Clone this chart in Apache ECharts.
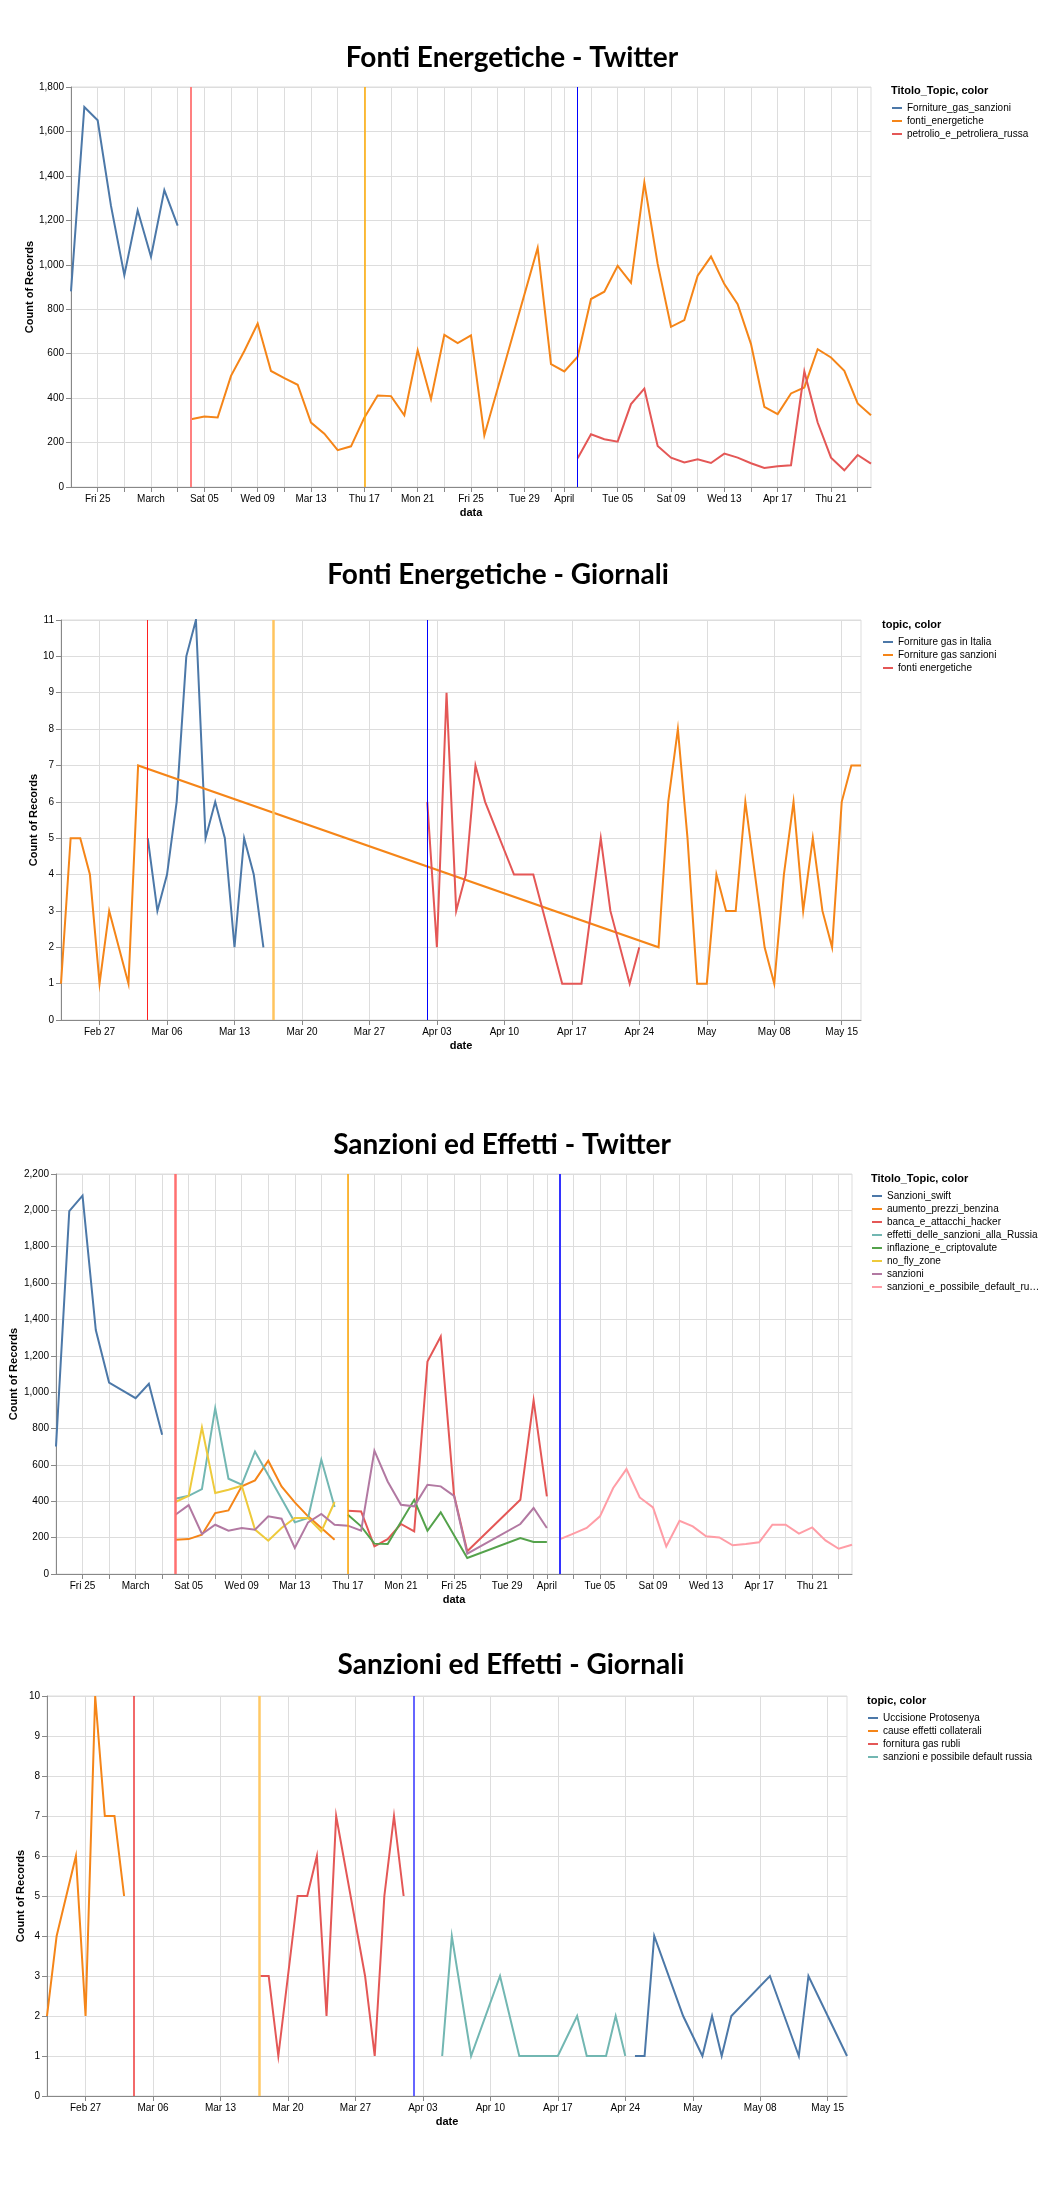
<!DOCTYPE html>
<html>
<head>
<meta charset="utf-8">
<title>Fonti Energetiche / Sanzioni ed Effetti</title>
<script src="https://cdn.jsdelivr.net/npm/echarts@6/dist/echarts.min.js"></script>
<style>
  html, body { margin: 0; padding: 0; background: #fff; }
  #main { width: 1048px; height: 2192px; }
</style>
</head>
<body>
<div id="main"></div>
<script>
// ---- tick positions / labels ----
const twTicks = ['02-25','02-27','03-01','03-03','03-05','03-07','03-09','03-11','03-13','03-15','03-17','03-19',
  '03-21','03-23','03-25','03-27','03-29','03-31','04-01','04-03','04-05','04-07','04-09','04-11','04-13','04-15',
  '04-17','04-19','04-21','04-23'];
const twLabels = {'02-25':'Fri 25','03-01':'March','03-05':'Sat 05','03-09':'Wed 09','03-13':'Mar 13','03-17':'Thu 17',
  '03-21':'Mon 21','03-25':'Fri 25','03-29':'Tue 29','04-01':'April','04-05':'Tue 05','04-09':'Sat 09',
  '04-13':'Wed 13','04-17':'Apr 17','04-21':'Thu 21'};
const giTicks = ['02-27','03-06','03-13','03-20','03-27','04-03','04-10','04-17','04-24','05-01','05-08','05-15'];
const giLabels = {'02-27':'Feb 27','03-06':'Mar 06','03-13':'Mar 13','03-20':'Mar 20','03-27':'Mar 27','04-03':'Apr 03',
  '04-10':'Apr 10','04-17':'Apr 17','04-24':'Apr 24','05-01':'May','05-08':'May 08','05-15':'May 15'};

// ---- Fonti Energetiche - Twitter ----
const fornitureGasSanzioniTw = [['02-23',880],['02-24',1710],['02-25',1650],['02-26',1265],['02-27',953],['02-28',1245],
  ['03-01',1036],['03-02',1336],['03-03',1176]];
const fontiEnergeticheTw = [['03-04',305],['03-05',317],['03-06',313],['03-07',500],['03-08',612],['03-09',736],['03-10',522],
  ['03-11',490],['03-12',460],['03-13',290],['03-14',240],['03-15',166],['03-16',183],['03-17',312],['03-18',412],
  ['03-19',409],['03-20',323],['03-21',615],['03-22',396],['03-23',685],['03-24',648],['03-25',682],['03-26',232],
  ['03-30',1076],['03-31',553],['04-01',520],['04-02',586],['04-03',846],['04-04',879],['04-05',995],['04-06',919],
  ['04-07',1370],['04-08',1004],['04-09',721],['04-10',751],['04-11',951],['04-12',1037],['04-13',913],['04-14',823],
  ['04-15',643],['04-16',361],['04-17',328],['04-18',421],['04-19',448],['04-20',620],['04-21',583],['04-22',523],
  ['04-23',376],['04-24',323]];
const petrolioTw = [['04-02',129],['04-03',237],['04-04',215],['04-05',204],['04-06',373],['04-07',443],['04-08',185],
  ['04-09',132],['04-10',110],['04-11',125],['04-12',108],['04-13',150],['04-14',132],['04-15',107],['04-16',86],
  ['04-17',93],['04-18',98],['04-19',520],['04-20',290],['04-21',132],['04-22',75],['04-23',144],['04-24',105]];

// ---- Fonti Energetiche - Giornali ----
const fornitureItaliaGi = [['03-04',5],['03-05',3],['03-06',4],['03-07',6],['03-08',10],['03-09',11],['03-10',5],
  ['03-11',6],['03-12',5],['03-13',2],['03-14',5],['03-15',4],['03-16',2]];
const fornitureSanzioniGi = [['02-23',1],['02-24',5],['02-25',5],['02-26',4],['02-27',1],['02-28',3],['03-02',1],['03-03',7],
  ['04-26',2],['04-27',6],['04-28',8],['04-29',5],['04-30',1],['05-01',1],['05-02',4],['05-03',3],['05-04',3],['05-05',6],
  ['05-06',4],['05-07',2],['05-08',1],['05-09',4],['05-10',6],['05-11',3],['05-12',5],['05-13',3],['05-14',2],['05-15',6],
  ['05-16',7],['05-17',7]];
const fontiEnergeticheGi = [['04-02',6],['04-03',2],['04-04',9],['04-05',3],['04-06',4],['04-07',7],['04-08',6],['04-11',4],
  ['04-12',4],['04-13',4],['04-16',1],['04-17',1],['04-18',1],['04-20',5],['04-21',3],['04-23',1],['04-24',2]];

// ---- Sanzioni ed Effetti - Twitter ----
const sanzioniSwiftTw = [['02-23',701],['02-24',1996],['02-25',2081],['02-26',1342],['02-27',1053],['02-28',1010],
  ['03-01',967],['03-02',1046],['03-03',766]];
const aumentoPrezziTw = [['03-04',189],['03-05',192],['03-06',216],['03-07',335],['03-08',350],['03-09',482],['03-10',515],
  ['03-11',623],['03-12',482],['03-13',394],['03-14',317],['03-15',253],['03-16',189]];
const bancaHackerTw = [['03-17',348],['03-18',344],['03-19',152],['03-20',192],['03-21',275],['03-22',234],['03-23',1168],
  ['03-24',1306],['03-25',436],['03-26',125],['03-30',408],['03-31',955],['04-01',427]];
const effettiSanzioniTw = [['03-04',414],['03-05',430],['03-06',467],['03-07',912],['03-08',524],['03-09',491],['03-10',674],
  ['03-13',284],['03-14',308],['03-15',628],['03-16',368]];
const inflazioneTw = [['03-17',326],['03-18',262],['03-19',167],['03-20',165],['03-22',408],['03-23',238],['03-24',339],
  ['03-26',88],['03-30',198],['03-31',176],['04-01',176]];
const noFlyZoneTw = [['03-04',396],['03-05',430],['03-06',806],['03-07',445],['03-08',463],['03-09',485],['03-10',244],
  ['03-11',183],['03-12',253],['03-13',308],['03-14',308],['03-15',234],['03-16',396]];
const sanzioniTw = [['03-04',326],['03-05',379],['03-06',220],['03-07',271],['03-08',238],['03-09',253],['03-10',244],
  ['03-11',317],['03-12',304],['03-13',143],['03-14',284],['03-15',330],['03-16',271],['03-17',266],['03-18',238],
  ['03-19',678],['03-20',509],['03-21',381],['03-22',372],['03-23',491],['03-24',482],['03-25',430],['03-26',112],
  ['03-30',275],['03-31',363],['04-01',253]];
const defaultRussiaTw = [['04-02',192],['04-03',222],['04-04',253],['04-05',317],['04-06',473],['04-07',577],['04-08',421],
  ['04-09',366],['04-10',152],['04-11',293],['04-12',262],['04-13',207],['04-14',201],['04-15',158],['04-16',165],
  ['04-17',174],['04-18',271],['04-19',271],['04-20',222],['04-21',256],['04-22',185],['04-23',139],['04-24',161]];

// ---- Sanzioni ed Effetti - Giornali ----
const protosenyaGi = [['04-25',1],['04-26',1],['04-27',4],['04-30',2],['05-02',1],['05-03',2],['05-04',1],['05-05',2],
  ['05-09',3],['05-12',1],['05-13',3],['05-17',1]];
const causeEffettiGi = [['02-23',2],['02-24',4],['02-26',6],['02-27',2],['02-28',10],['03-01',7],['03-02',7],['03-03',5]];
const gasRubliGi = [['03-17',3],['03-18',3],['03-19',1],['03-21',5],['03-22',5],['03-23',6],['03-24',2],['03-25',7],
  ['03-28',3],['03-29',1],['03-30',5],['03-31',7],['04-01',5]];
const defaultRussiaGi = [['04-05',1],['04-06',4],['04-08',1],['04-11',3],['04-13',1],['04-17',1],['04-19',2],['04-20',1],
  ['04-22',1],['04-23',2],['04-24',1]];

// vega tableau10
const C = {blue:'#4c78a8', orange:'#f58518', red:'#e45756', teal:'#72b7b2', green:'#54a24b',
  yellow:'#eeca3b', purple:'#b279a2', pink:'#ff9da6'};

function dayRange(from, to) {
  const out = [];
  let t = Date.UTC(2022, +from.slice(0, 2) - 1, +from.slice(3));
  const end = Date.UTC(2022, +to.slice(0, 2) - 1, +to.slice(3));
  while (t <= end) {
    const d = new Date(t);
    out.push(String(d.getUTCMonth() + 1).padStart(2, '0') + '-' + String(d.getUTCDate()).padStart(2, '0'));
    t += 86400000;
  }
  return out;
}
const twDays = dayRange('02-23', '04-24');
const giDays = dayRange('02-23', '05-17');

const FONT = 'Liberation Sans, Arial, sans-serif';
const option = {
  animation: false,
  grid: [], xAxis: [], yAxis: [], series: [], legend: [], graphic: []
};

function addPanel(p) {
  const i = option.grid.length;
  option.grid.push({left: p.left, top: p.top, width: 800, height: 400, show: true,
    borderColor: '#ddd', borderWidth: 1, containLabel: false});
  const ticks = new Set(p.ticks);
  option.xAxis.push({
    type: 'category', gridIndex: i, data: p.days, boundaryGap: false,
    name: p.xName, nameLocation: 'middle', nameGap: 20, nameMoveOverlap: false,
    nameTextStyle: {fontFamily: FONT, fontSize: 11, fontWeight: 'bold', color: '#000'},
    axisLine: {lineStyle: {color: '#888', width: 1}},
    axisTick: {show: true, length: 5, lineStyle: {color: '#888'}, interval: (idx, v) => ticks.has(v)},
    splitLine: {show: true, lineStyle: {color: '#ddd', width: 1}, interval: (idx, v) => ticks.has(v)},
    axisLabel: {interval: (idx, v) => v in p.labels, formatter: v => p.labels[v] || '',
      fontFamily: FONT, fontSize: 10, color: '#000', margin: 7}
  });
  option.yAxis.push({
    type: 'value', gridIndex: i, min: 0, max: p.yMax, interval: p.yStep,
    name: 'Count of Records', nameLocation: 'middle', nameGap: p.yNameGap, nameMoveOverlap: false,
    nameTextStyle: {fontFamily: FONT, fontSize: 11, fontWeight: 'bold', color: '#000'},
    axisLine: {show: true, lineStyle: {color: '#888', width: 1}},
    axisTick: {show: true, length: 5, lineStyle: {color: '#888'}},
    splitLine: {show: true, lineStyle: {color: '#ddd', width: 1}},
    axisLabel: {fontFamily: FONT, fontSize: 10, color: '#000', margin: 7,
      formatter: v => v.toLocaleString('en-US')}
  });
  p.series.forEach((s, k) => {
    const ser = {
      type: 'line', name: s.name, xAxisIndex: i, yAxisIndex: i, data: s.data,
      showSymbol: false, symbol: 'none', silent: true, color: s.color,
      lineStyle: {color: s.color, width: 2, join: 'miter', miterLimit: 10},
      emphasis: {disabled: true}
    };
    if (k === 0) {
      ser.markLine = {
        silent: true, symbol: ['none', 'none'], label: {show: false}, animation: false,
        data: p.rules.map(r => ({xAxis: r.day, lineStyle: {color: r.color, width: r.width, type: 'solid'}}))
      };
    }
    option.series.push(ser);
  });
  option.legend.push({
    orient: 'vertical', left: p.legendX, top: p.legendY, padding: 0, itemGap: 3,
    itemWidth: 10, itemHeight: 2, icon: 'rect', selectedMode: false,
    data: p.series.map(s => s.name),
    textStyle: {fontFamily: FONT, fontSize: 10, color: '#000', width: 155, overflow: 'truncate', ellipsis: '…'}
  });
  option.graphic.push({
    type: 'text', x: p.titleX, y: p.titleY,
    style: {text: p.title, font: 'bold 28px Lato, sans-serif', fill: '#000',
      align: 'center', verticalAlign: 'middle', textAlign: 'center', textVerticalAlign: 'middle'}
  });
  option.graphic.push({
    type: 'text', x: p.legendX - 1, y: p.legendY - 12,
    style: {text: p.legendTitle, font: 'bold 11px ' + FONT, fill: '#000',
      align: 'left', verticalAlign: 'middle', textAlign: 'left', textVerticalAlign: 'middle'}
  });
}

addPanel({
  title: 'Fonti Energetiche - Twitter', titleX: 512, titleY: 58,
  left: 71, top: 87, days: twDays, ticks: twTicks, labels: twLabels, xName: 'data',
  yMax: 1800, yStep: 200, yNameGap: 36,
  legendX: 892, legendY: 103, legendTitle: 'Titolo_Topic, color',
  rules: [{day: '03-04', color: '#ff8080', width: 2}, {day: '03-17', color: '#ffaa00', width: 1.5},
    {day: '04-02', color: '#0000ff', width: 1}],
  series: [
    {name: 'Forniture_gas_sanzioni', color: C.blue, data: fornitureGasSanzioniTw},
    {name: 'fonti_energetiche', color: C.orange, data: fontiEnergeticheTw},
    {name: 'petrolio_e_petroliera_russa', color: C.red, data: petrolioTw}
  ]
});

addPanel({
  title: 'Fonti Energetiche - Giornali', titleX: 498, titleY: 575,
  left: 61, top: 620, days: giDays, ticks: giTicks, labels: giLabels, xName: 'date',
  yMax: 11, yStep: 1, yNameGap: 22,
  legendX: 883, legendY: 637, legendTitle: 'topic, color',
  rules: [{day: '03-04', color: '#ff2020', width: 1}, {day: '03-17', color: '#ffc45e', width: 2.5},
    {day: '04-02', color: '#0000ff', width: 1}],
  series: [
    {name: 'Forniture gas in Italia', color: C.blue, data: fornitureItaliaGi},
    {name: 'Forniture gas sanzioni', color: C.orange, data: fornitureSanzioniGi},
    {name: 'fonti energetiche', color: C.red, data: fontiEnergeticheGi}
  ]
});

addPanel({
  title: 'Sanzioni ed Effetti - Twitter', titleX: 502, titleY: 1145,
  left: 52, top: 1174, days: twDays, ticks: twTicks, labels: twLabels, xName: 'data',
  yMax: 2200, yStep: 200, yNameGap: 37,
  legendX: 872, legendY: 1191, legendTitle: 'Titolo_Topic, color',
  rules: [{day: '03-04', color: '#ff7070', width: 2.5}, {day: '03-17', color: '#ffa500', width: 1.5},
    {day: '04-02', color: '#3333ff', width: 2}],
  series: [
    {name: 'Sanzioni_swift', color: C.blue, data: sanzioniSwiftTw},
    {name: 'aumento_prezzi_benzina', color: C.orange, data: aumentoPrezziTw},
    {name: 'banca_e_attacchi_hacker', color: C.red, data: bancaHackerTw},
    {name: 'effetti_delle_sanzioni_alla_Russia', color: C.teal, data: effettiSanzioniTw},
    {name: 'inflazione_e_criptovalute', color: C.green, data: inflazioneTw},
    {name: 'no_fly_zone', color: C.yellow, data: noFlyZoneTw},
    {name: 'sanzioni', color: C.purple, data: sanzioniTw},
    {name: 'sanzioni_e_possibile_default_russia', color: C.pink, data: defaultRussiaTw}
  ]
});

addPanel({
  title: 'Sanzioni ed Effetti - Giornali', titleX: 511, titleY: 1665,
  left: 47, top: 1696, days: giDays, ticks: giTicks, labels: giLabels, xName: 'date',
  yMax: 10, yStep: 1, yNameGap: 21,
  legendX: 868, legendY: 1713, legendTitle: 'topic, color',
  rules: [{day: '03-04', color: '#ee3838', width: 1.5}, {day: '03-17', color: '#ffc966', width: 2.5},
    {day: '04-02', color: '#3333ff', width: 1.5}],
  series: [
    {name: 'Uccisione Protosenya', color: C.blue, data: protosenyaGi},
    {name: 'cause effetti collaterali', color: C.orange, data: causeEffettiGi},
    {name: 'fornitura gas rubli', color: C.red, data: gasRubliGi},
    {name: 'sanzioni e possibile default russia', color: C.teal, data: defaultRussiaGi}
  ]
});

const chart = echarts.init(document.getElementById('main'), null, {renderer: 'canvas'});
chart.setOption(option);
</script>
</body>
</html>
